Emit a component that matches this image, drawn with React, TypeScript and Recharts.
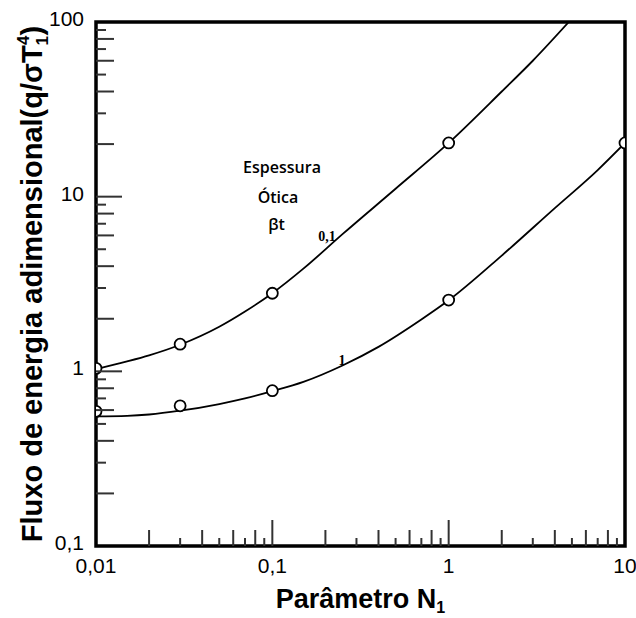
import React from 'react';
import { ComposedChart, Line, Scatter, XAxis, YAxis, ReferenceArea, ReferenceDot } from 'recharts';

// Continuous curves
const upperCurveX = [0.01, 0.015, 0.02, 0.03, 0.05, 0.07, 0.1, 0.15, 0.25, 0.5, 1, 2, 3, 4.8];
const upperCurveY = [1.03, 1.14, 1.235, 1.42, 1.8, 2.2, 2.8, 3.87, 6.1, 11.1, 20.3, 40, 60, 100];
const lowerCurveX = [0.01, 0.015, 0.02, 0.03, 0.05, 0.07, 0.1, 0.15, 0.25, 0.4, 0.7, 1, 2, 4, 7, 10];
const lowerCurveY = [0.552, 0.556, 0.566, 0.595, 0.65, 0.7, 0.77, 0.87, 1.08, 1.38, 1.98, 2.55, 4.6, 8.6, 14.2, 20.3];

// Circle markers
const upperPointsX = [0.01, 0.03, 0.1, 1];
const upperPointsY = [1.04, 1.43, 2.8, 20.3];
const lowerPointsX = [0.01, 0.03, 0.1, 1, 10];
const lowerPointsY = [0.59, 0.635, 0.775, 2.56, 20.3];

// Axes
const xMajorTicks = [0.01, 0.1, 1, 10];
const xTickLabels = ['0,01', '0,1', '1', '10'];
const yMajorTicks = [0.1, 1, 10, 100];
const yTickLabels = ['0,1', '1', '10', '100'];
const minorMantissas = [2, 3, 4, 5, 6, 7, 8, 9];

// Annotations
const annotationTexts = ['Espessura', 'Ótica', 'βt', '0,1', '1'];
const annotationX = [0.1135, 0.1076, 0.1057, 0.204, 0.248];
const annotationY = [13.7, 9.2, 6.44, 5.59, 1.086];

const buildTicks = (majors: number[]) => {
  const out: number[] = [];
  majors.forEach((d, i) => {
    out.push(d);
    if (i < majors.length - 1) minorMantissas.forEach((m) => out.push(d * m));
  });
  return out;
};
const xTicks = buildTicks(xMajorTicks);
const yTicks = buildTicks(yMajorTicks);

const zip = (xs: number[], ys: number[]) => xs.map((x, i) => ({ x, y: ys[i] }));

const mantissa = (v: number) => {
  const e = Math.floor(Math.log10(v) + 1e-9);
  return Math.round(v / Math.pow(10, e));
};
const majorIndex = (v: number, majors: number[]) =>
  majors.findIndex((m) => Math.abs(Math.log10(m) - Math.log10(v)) < 1e-6);

const SANS = '"Liberation Sans", Arial, sans-serif';

const XTick = (props: any) => {
  const { x, y, payload } = props;
  const v = payload.value;
  const mi = majorIndex(v, xMajorTicks);
  const isEnd = mi === 0 || mi === xMajorTicks.length - 1;
  const m = mantissa(v);
  const len = mi >= 0 ? (isEnd ? 0 : 26) : m % 2 === 0 ? 16 : 8;
  return (
    <g>
      {len > 0 && <line x1={x} y1={y} x2={x} y2={y - len} stroke="#333" strokeWidth={2} />}
      {mi >= 0 && (
        <text x={x} y={y + 27} textAnchor="middle" fontFamily={SANS} fontSize={21} fill="#000">
          {xTickLabels[mi]}
        </text>
      )}
    </g>
  );
};

const YTick = (props: any) => {
  const { x, y, payload } = props;
  const v = payload.value;
  const mi = majorIndex(v, yMajorTicks);
  const isEnd = mi === 0 || mi === yMajorTicks.length - 1;
  const m = mantissa(v);
  const len = mi >= 0 ? (isEnd ? 0 : 26) : m % 2 === 0 ? 18 : 10;
  return (
    <g>
      {len > 0 && <line x1={x} y1={y} x2={x + len} y2={y} stroke="#333" strokeWidth={2} />}
      {mi >= 0 && (
        <text x={x - 12} y={y + 4} textAnchor="end" fontFamily={SANS} fontSize={21} fill="#000">
          {yTickLabels[mi]}
        </text>
      )}
    </g>
  );
};

const XTitle = (props: any) => {
  const { viewBox } = props;
  const cx = viewBox.x + viewBox.width / 2;
  return (
    <text x={cx} y={viewBox.y + 62} textAnchor="middle" fontFamily={SANS} fontWeight="bold" fontSize={27} fill="#000">
      Parâmetro N<tspan dy={5} fontSize={16}>1</tspan>
    </text>
  );
};

const YTitle = (props: any) => {
  const { viewBox } = props;
  const cy = viewBox.y + viewBox.height / 2;
  const bx = 42;
  return (
    <text
      x={bx}
      y={cy}
      transform={`rotate(-90, ${bx}, ${cy})`}
      textAnchor="middle"
      fontFamily={SANS}
      fontWeight="bold"
      fontSize={29}
      fill="#000"
    >
      Fluxo de energia adimensional(q/σT
      <tspan dy={6} fontSize={17}>1</tspan>
      <tspan dx={-9} dy={-19} fontSize={17}>4</tspan>
      <tspan dy={13}>)</tspan>
    </text>
  );
};

const Circle = (props: any) => {
  const { cx, cy } = props;
  return <circle cx={cx} cy={cy} r={5.5} fill="#fff" stroke="#000" strokeWidth={1.8} />;
};

const annotationStyle = (i: number) =>
  i < 3
    ? { fontFamily: '"Open Sans", sans-serif', fontWeight: 600, fontSize: 16 }
    : { fontFamily: '"Liberation Serif", "Times New Roman", serif', fontWeight: 700, fontSize: 14 };

export default function App() {
  return (
    <div style={{ position: 'absolute', left: 0, top: 0, width: 636, height: 618, background: '#fff' }}>
      <ComposedChart width={636} height={618} margin={{ top: 22, right: 11, bottom: 0, left: 0 }}>
        <XAxis
          dataKey="x"
          type="number"
          scale="log"
          domain={[0.01, 10]}
          allowDataOverflow
          ticks={xTicks}
          interval={0}
          tick={<XTick />}
          tickSize={0}
          tickMargin={0}
          axisLine={false}
          tickLine={false}
          height={72}
          label={{ content: <XTitle /> } as any}
        />
        <YAxis
          dataKey="y"
          type="number"
          scale="log"
          domain={[0.1, 100]}
          allowDataOverflow
          ticks={yTicks}
          interval={0}
          tick={<YTick />}
          tickSize={0}
          tickMargin={0}
          axisLine={false}
          tickLine={false}
          width={96}
          label={{ content: <YTitle /> } as any}
        />
        <Line
          data={zip(upperCurveX, upperCurveY)}
          dataKey="y"
          type="monotone"
          stroke="#000"
          strokeWidth={1.8}
          dot={false}
          activeDot={false}
          isAnimationActive={false}
        />
        <Line
          data={zip(lowerCurveX, lowerCurveY)}
          dataKey="y"
          type="monotone"
          stroke="#000"
          strokeWidth={1.8}
          dot={false}
          activeDot={false}
          isAnimationActive={false}
        />
        <ReferenceArea x1={0.01} x2={10} y1={0.1} y2={100} fill="none" stroke="#000" strokeWidth={3.5} />
        <Scatter data={zip(upperPointsX, upperPointsY)} dataKey="y" shape={<Circle />} isAnimationActive={false} />
        <Scatter data={zip(lowerPointsX, lowerPointsY)} dataKey="y" shape={<Circle />} isAnimationActive={false} />
        {annotationTexts.map((t, i) => (
          <ReferenceDot
            key={i}
            x={annotationX[i]}
            y={annotationY[i]}
            r={0}
            shape={(p: any) => (
              <text x={p.cx} y={p.cy} textAnchor="middle" fill="#000" {...annotationStyle(i)}>
                {t}
              </text>
            )}
          />
        ))}
      </ComposedChart>
    </div>
  );
}
